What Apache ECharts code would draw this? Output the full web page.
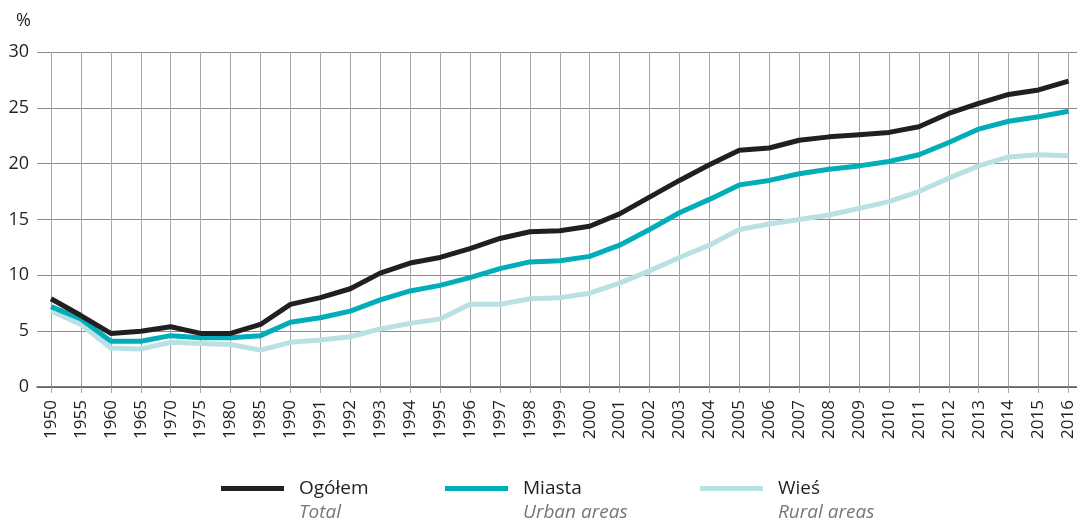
<!DOCTYPE html>
<html>
<head>
<meta charset="utf-8">
<script src="https://cdn.jsdelivr.net/npm/echarts@6/dist/echarts.min.js"></script>
<style>
  html, body { margin: 0; padding: 0; background: #fff; }
  #chart { width: 1077px; height: 520px; }
</style>
</head>
<body>
<div id="chart"></div>
<script>
// Years on the horizontal axis
const years = ['1950', '1955', '1960', '1965', '1970', '1975', '1980', '1985',
  '1990', '1991', '1992', '1993', '1994', '1995', '1996', '1997', '1998', '1999',
  '2000', '2001', '2002', '2003', '2004', '2005', '2006', '2007', '2008', '2009',
  '2010', '2011', '2012', '2013', '2014', '2015', '2016'];

// Share (%) for the whole country, towns and the countryside
const ogolem = [7.9, 6.4, 4.8, 5.0, 5.4, 4.8, 4.8, 5.6,
  7.4, 8.0, 8.8, 10.2, 11.1, 11.6, 12.4, 13.3, 13.9, 14.0,
  14.4, 15.5, 17.0, 18.5, 19.9, 21.2, 21.4, 22.1, 22.4, 22.6,
  22.8, 23.3, 24.5, 25.4, 26.2, 26.6, 27.4];
const miasta = [7.2, 6.1, 4.1, 4.1, 4.6, 4.4, 4.4, 4.6,
  5.8, 6.2, 6.8, 7.8, 8.6, 9.1, 9.8, 10.6, 11.2, 11.3,
  11.7, 12.7, 14.1, 15.6, 16.8, 18.1, 18.5, 19.1, 19.5, 19.8,
  20.2, 20.8, 21.9, 23.1, 23.8, 24.2, 24.7];
const wies = [6.8, 5.6, 3.5, 3.4, 4.0, 3.9, 3.8, 3.3,
  4.0, 4.2, 4.5, 5.2, 5.7, 6.1, 7.4, 7.4, 7.9, 8.0,
  8.4, 9.3, 10.4, 11.6, 12.7, 14.1, 14.6, 15.0, 15.4, 16.0,
  16.6, 17.5, 18.7, 19.8, 20.6, 20.8, 20.7];

// Series names: Polish label and English subtitle
const names = ['Ogółem', 'Miasta', 'Wieś'];
const subtitles = ['Total', 'Urban areas', 'Rural areas'];

const FONT = '"Open Sans", sans-serif';
const colors = ['#231f20', '#00adb8', '#b9e1e4'];

const chart = echarts.init(document.getElementById('chart'), null, { renderer: 'canvas' });

function legendFor(i, left) {
  return {
    data: [names[i]],
    left: left,
    top: 455,
    padding: 0,
    icon: 'rect',
    itemWidth: 63,
    itemHeight: 5,
    selectedMode: false,
    formatter: function (n) {
      return '{e| }\n{a|' + n + '}\n{b|' + subtitles[names.indexOf(n)] + '}';
    },
    textStyle: {
      padding: [0, 0, 0, 10],
      rich: {
        e: { fontSize: 19, lineHeight: 24, fontFamily: FONT },
        a: { fontSize: 19, lineHeight: 24, color: '#231f20', fontFamily: FONT },
        b: { fontSize: 19, lineHeight: 24, color: '#777777', fontStyle: 'italic', fontFamily: FONT }
      }
    }
  };
}

const option = {
  animation: false,
  backgroundColor: '#ffffff',
  textStyle: { fontFamily: FONT },
  grid: [
    // horizontal rules and value labels
    { left: 37, right: 0, top: 52, bottom: 133, containLabel: false },
    // year columns and the lines
    { left: 51, right: 6, top: 52, bottom: 133, containLabel: false }
  ],
  xAxis: [
    {
      gridIndex: 0, type: 'value', min: 0, max: 1,
      axisLine: { show: true, lineStyle: { color: '#555555', width: 1.5 } },
      axisTick: { show: false }, axisLabel: { show: false }, splitLine: { show: false }
    },
    {
      gridIndex: 1, type: 'category', data: years, boundaryGap: false,
      axisLine: { show: false },
      axisTick: { show: true, interval: 0, length: 6, lineStyle: { color: '#a6a6a6', width: 1 } },
      axisLabel: { interval: 0, rotate: 90, margin: 13, fontSize: 17, color: '#231f20', fontFamily: FONT },
      splitLine: { show: true, interval: 0, lineStyle: { color: '#a6a6a6', width: 1 } }
    }
  ],
  yAxis: [
    {
      gridIndex: 0, type: 'value', min: 0, max: 30, interval: 5,
      name: '%',
      nameLocation: 'end',
      nameGap: 22,
      nameTextStyle: { fontSize: 18, color: '#231f20', align: 'right', padding: [0, 6, 0, 0], fontFamily: FONT },
      axisLine: { show: false }, axisTick: { show: false },
      axisLabel: { fontSize: 18, color: '#231f20', margin: 8, fontFamily: FONT },
      splitLine: { show: true, lineStyle: { color: '#8c8c8c', width: 1 } }
    },
    {
      gridIndex: 1, type: 'value', min: 0, max: 30, interval: 5,
      show: false, splitLine: { show: false }
    }
  ],
  legend: [legendFor(0, 221), legendFor(1, 445), legendFor(2, 700)],
  series: [
    { name: names[2], data: wies, color: colors[2], z: 3 },
    { name: names[1], data: miasta, color: colors[1], z: 4 },
    { name: names[0], data: ogolem, color: colors[0], z: 5 }
  ].map(s => Object.assign({
    type: 'line',
    xAxisIndex: 1,
    yAxisIndex: 1,
    symbol: 'none',
    lineStyle: { width: 5, color: s.color, join: 'round', cap: 'butt' }
  }, s))
};

chart.setOption(option);
</script>
</body>
</html>
